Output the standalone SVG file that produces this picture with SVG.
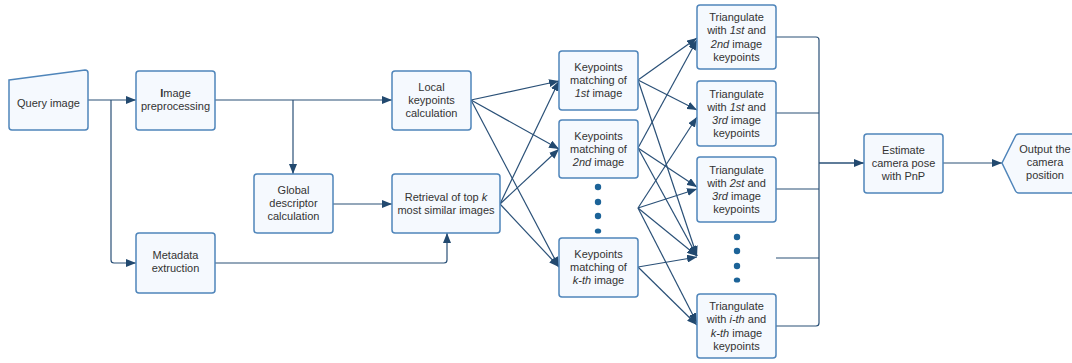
<svg xmlns="http://www.w3.org/2000/svg" width="1072" height="363" viewBox="0 0 1072 363">
<defs>
<marker id="ah" markerWidth="10" markerHeight="8" refX="10" refY="4" orient="auto" markerUnits="userSpaceOnUse">
<path d="M0,0 L10,4 L0,8 Z" fill="#22496f"/>
</marker>
<style>
.box{fill:#f5f9fe;stroke:#4f85ba;stroke-width:1.5}
.t{font-family:"Liberation Sans",Arial,sans-serif;font-size:11px;fill:#333;text-anchor:middle}
.c{fill:none;stroke:#2a5077;stroke-width:1.2}
.a{marker-end:url(#ah)}
.dot{fill:#1c6398}
</style>
</defs>
<rect width="1072" height="363" fill="#ffffff"/>

<g id="connectors">
<path class="c a" d="M88,100 H136"/>
<path class="c a" d="M111,100 V260 Q111,263 114,263 H136"/>
<path class="c a" d="M215,100 H392"/>
<path class="c a" d="M293,100 V174"/>
<path class="c a" d="M333,204 H392"/>
<path class="c a" d="M215,263 H444 Q447,263 447,260 V233"/>
<path class="c a" d="M471,100 L559,81"/>
<path class="c a" d="M471,100 L559,149"/>
<path class="c a" d="M471,100 L559,267"/>
<path class="c a" d="M500,204 L559,81"/>
<path class="c a" d="M500,204 L559,149"/>
<path class="c a" d="M500,204 L559,267"/>
<path class="c a" d="M638,80 L697,38"/>
<path class="c a" d="M638,80 L697,110"/>
<path class="c a" d="M638,80 L697,256"/>
<path class="c a" d="M638,148 L697,40"/>
<path class="c a" d="M638,148 L697,187"/>
<path class="c a" d="M638,148 L697,256"/>
<path class="c a" d="M638,208 L697,117"/>
<path class="c a" d="M638,208 L697,189"/>
<path class="c a" d="M638,208 L697,256"/>
<path class="c a" d="M638,208 L697,323"/>
<path class="c a" d="M638,267 L697,257"/>
<path class="c a" d="M638,267 L697,325"/>
<path class="c" d="M776,37 H816 Q819,37 819,40 V323 Q819,326 816,326 H776"/>
<path class="c" d="M776,113 H819"/>
<path class="c" d="M776,189 H819"/>
<path class="c" d="M776,258 H819"/>
<path class="c a" d="M819,163 H864" style="stroke-width:1.6"/>
<path class="c a" d="M943,163 H1002"/>
</g>

<g id="query-image">
<path class="box" d="M9,80 L85,70 Q88,70 88,73 L88,127 Q88,130 85,130 L12,130 Q9,130 9,127 Z"/>
<text class="t" x="48.5" y="107">Query image</text>
</g>

<g id="image-preprocessing">
<rect class="box" x="136" y="71" width="79" height="59" rx="3"/>
<text class="t" x="175.5" y="97"><tspan font-weight="bold">I</tspan>mage</text>
<text class="t" x="175.5" y="110">preprocessing</text>
</g>

<g id="local-keypoints">
<rect class="box" x="392" y="71" width="79" height="59" rx="3"/>
<text class="t" x="431.5" y="91">Local</text>
<text class="t" x="431.5" y="104">keypoints</text>
<text class="t" x="431.5" y="117">calculation</text>
</g>

<g id="global-descriptor">
<rect class="box" x="254" y="174" width="79" height="59" rx="3"/>
<text class="t" x="293.5" y="194">Global</text>
<text class="t" x="293.5" y="207">descriptor</text>
<text class="t" x="293.5" y="220">calculation</text>
</g>

<g id="retrieval">
<rect class="box" x="392" y="174" width="108" height="59" rx="3"/>
<text class="t" x="446" y="201">Retrieval of top <tspan font-style="italic">k</tspan></text>
<text class="t" x="446" y="214">most similar images</text>
</g>

<g id="metadata">
<rect class="box" x="136" y="233" width="79" height="60" rx="3"/>
<text class="t" x="175.5" y="259">Metadata</text>
<text class="t" x="175.5" y="272">extruction</text>
</g>

<g id="match-1">
<rect class="box" x="559" y="51" width="79" height="59" rx="3"/>
<text class="t" x="598.5" y="71">Keypoints</text>
<text class="t" x="598.5" y="84">matching of</text>
<text class="t" x="598.5" y="97"><tspan font-style="italic">1st</tspan> image</text>
</g>

<g id="match-2">
<rect class="box" x="559" y="120" width="79" height="58" rx="3"/>
<text class="t" x="598.5" y="140">Keypoints</text>
<text class="t" x="598.5" y="153">matching of</text>
<text class="t" x="598.5" y="166"><tspan font-style="italic">2nd</tspan> image</text>
</g>

<g id="match-dots">
<circle class="dot" cx="598" cy="187" r="3.2"/>
<circle class="dot" cx="598" cy="202" r="3.2"/>
<circle class="dot" cx="598" cy="216" r="3.2"/>
<ellipse class="dot" cx="598" cy="231" rx="3.2" ry="2.6"/>
</g>

<g id="match-k">
<rect class="box" x="559" y="238" width="79" height="59" rx="3"/>
<text class="t" x="598.5" y="258">Keypoints</text>
<text class="t" x="598.5" y="271">matching of</text>
<text class="t" x="598.5" y="284"><tspan font-style="italic">k-th</tspan> image</text>
</g>

<g id="tri-1-2">
<rect class="box" x="697" y="5" width="79" height="64" rx="3"/>
<text class="t" x="736.5" y="21">Triangulate</text>
<text class="t" x="736.5" y="34.3">with <tspan font-style="italic">1st</tspan> and</text>
<text class="t" x="736.5" y="47.6"><tspan font-style="italic">2nd</tspan> image</text>
<text class="t" x="736.5" y="61">keypoints</text>
</g>

<g id="tri-1-3">
<rect class="box" x="697" y="81" width="79" height="65" rx="3"/>
<text class="t" x="736.5" y="97.5">Triangulate</text>
<text class="t" x="736.5" y="110.8">with <tspan font-style="italic">1st</tspan> and</text>
<text class="t" x="736.5" y="124.1"><tspan font-style="italic">3rd</tspan> image</text>
<text class="t" x="736.5" y="137.4">keypoints</text>
</g>

<g id="tri-2-3">
<rect class="box" x="697" y="157" width="79" height="65" rx="3"/>
<text class="t" x="736.5" y="173.5">Triangulate</text>
<text class="t" x="736.5" y="186.8">with <tspan font-style="italic">2st</tspan> and</text>
<text class="t" x="736.5" y="200.1"><tspan font-style="italic">3rd</tspan> image</text>
<text class="t" x="736.5" y="213.4">keypoints</text>
</g>

<g id="tri-dots">
<circle class="dot" cx="737" cy="237" r="3.2"/>
<circle class="dot" cx="737" cy="251" r="3.2"/>
<circle class="dot" cx="737" cy="266" r="3.2"/>
<ellipse class="dot" cx="737" cy="280" rx="3.2" ry="2.6"/>
</g>

<g id="tri-i-k">
<rect class="box" x="697" y="294" width="79" height="64" rx="3"/>
<text class="t" x="736.5" y="310">Triangulate</text>
<text class="t" x="736.5" y="323.3">with <tspan font-style="italic">i-th</tspan> and</text>
<text class="t" x="736.5" y="336.6"><tspan font-style="italic">k-th</tspan> image</text>
<text class="t" x="736.5" y="350">keypoints</text>
</g>

<g id="estimate-pose">
<rect class="box" x="864" y="134" width="79" height="59" rx="3"/>
<text class="t" x="903.5" y="154">Estimate</text>
<text class="t" x="903.5" y="167">camera pose</text>
<text class="t" x="903.5" y="180">with PnP</text>
</g>

<g id="output-position">
<path class="box" d="M1002,163 L1015.5,136 Q1016.5,134 1019,134 L1085,134 L1085,193 L1019,193 Q1016.5,193 1015.5,191 Z"/>
<text class="t" x="1045" y="153">Output the</text>
<text class="t" x="1045" y="166">camera</text>
<text class="t" x="1045" y="179">position</text>
</g>
</svg>
